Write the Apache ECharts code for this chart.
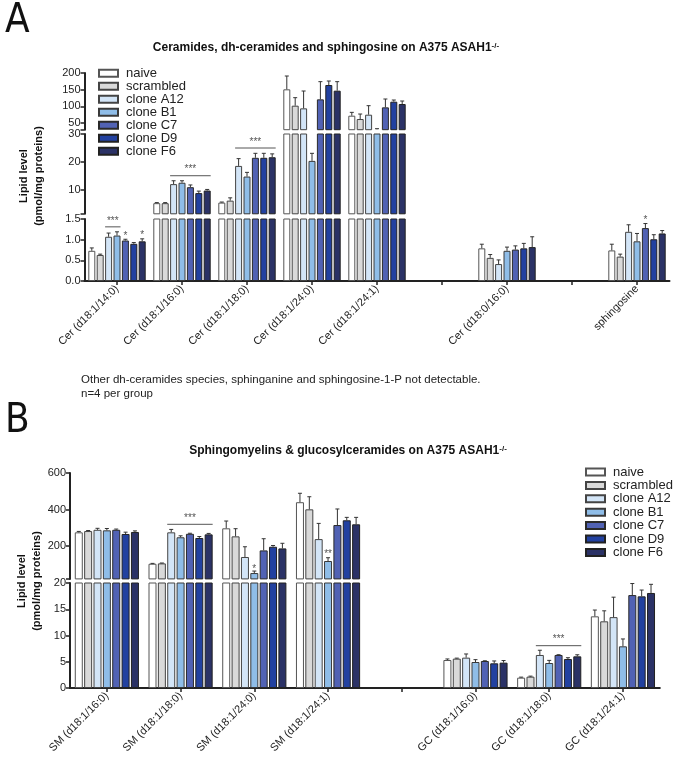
<!DOCTYPE html>
<html><head><meta charset="utf-8">
<script src="https://cdn.jsdelivr.net/npm/echarts@6/dist/echarts.min.js"></script>
<style>html,body{margin:0;padding:0;background:#fff}#c{width:675px;height:761px}</style>
</head><body><div id="c"></div>
<script>
// ---------- DATA ----------
const seriesNames = ['naive', 'scrambled', 'clone A12', 'clone B1', 'clone C7', 'clone D9', 'clone F6'];

// Panel A categories (empty slots are gaps in the original axis)
const catsA = ['Cer (d18:1/14:0)', 'Cer (d18:1/16:0)', 'Cer (d18:1/18:0)', 'Cer (d18:1/24:0)', 'Cer (d18:1/24:1)', ' ', 'Cer (d18:0/16:0)', '  ', 'sphingosine'];
const aNaive     = [0.73, 5.3, 5.5, 151, 72, null, 0.79, null, 0.74];
const aScrambled = [0.63, 5.3, 6.2, 102, 62, null, 0.56, null, 0.59];
const aA12       = [1.07, 12.1, 18.6, 94, 75, null, 0.41, null, 1.19];
const aB1        = [1.10, 12.6, 14.8, 20.4, 31, null, 0.73, null, 0.96];
const aC7        = [0.98, 11.0, 21.5, 121, 97, null, 0.76, null, 1.28];
const aD9        = [0.90, 8.9, 21.5, 164, 114, null, 0.79, null, 1.01];
const aF6        = [0.96, 9.8, 21.7, 147, 107, null, 0.82, null, 1.15];
const eaNaive     = [0.07, 0.2, 0.2, 40, 10, null, 0.10, null, 0.15];
const eaScrambled = [0.02, 0.2, 1.0, 24, 15, null, 0.08, null, 0.06];
const eaA12       = [0.09, 1.2, 2.6, 52, 27, null, 0.10, null, 0.17];
const eaB1        = [0.09, 0.7, 1.5, 2.7, 2, null, 0.09, null, 0.19];
const eaC7        = [0.03, 0.8, 1.6, 53, 25, null, 0.09, null, 0.11];
const eaD9        = [0.03, 0.7, 1.6, 12, 5, null, 0.12, null, 0.11];
const eaF6        = [0.06, 0.4, 1.2, 27, 9, null, 0.25, null, 0.07];

// Panel B categories
const catsB = ['SM (d18:1/16:0)', 'SM (d18:1/18:0)', 'SM (d18:1/24:0)', 'SM (d18:1/24:1)', ' ', 'GC (d18:1/16:0)', 'GC (d18:1/18:0)', 'GC (d18:1/24:1)'];
const bNaive     = [275, 103, 297, 440, null, 5.33, 1.97, 13.65];
const bScrambled = [282, 105, 253, 401, null, 5.59, 2.16, 12.7];
const bA12       = [289, 275, 140, 238, null, 5.78, 6.29, 13.5];
const bB1        = [286, 248, 52, 118, null, 4.95, 4.76, 7.94];
const bC7        = [289, 267, 176, 315, null, 5.14, 6.29, 17.7];
const bD9        = [266, 244, 196, 341, null, 4.7, 5.52, 17.46];
const bF6        = [277, 264, 187, 319, null, 4.83, 6.03, 18.1];
const ebNaive     = [5, 2, 40, 49, null, 0.2, 0.1, 1.2];
const ebScrambled = [3, 2, 42, 69, null, 0.1, 0.1, 2.0];
const ebA12       = [8, 16, 56, 86, null, 0.7, 0.9, 3.8];
const ebB1        = [10, 8, 11, 18, null, 0.45, 0.5, 1.4];
const ebC7        = [4, 3, 64, 88, null, 0.05, 0.05, 2.2];
const ebD9        = [10, 8, 7, 16, null, 0.45, 0.25, 1.2];
const ebF6        = [6, 5, 28, 38, null, 0.4, 0.3, 1.65];

// Y-axis tick labels for each broken-axis segment
const ticksATop = [50, 100, 150, 200];
const ticksAMid = [10, 20, 30];
const ticksBTop = [200, 400, 600];

// Significance marks: [segment, category, value, fromBar, toBar, text]
const annA = [
  [2, 0, 1.31, 2, 3, '***'],
  [2, 0, 0.93, 4, 4, '*'],
  [2, 0, 0.95, 6, 6, '*'],
  [1, 1, 15.1, 2, 6, '***'],
  [1, 2, 25.0, 2, 6, '***'],
  [2, 8, 1.32, 4, 4, '*']
];
const annB = [
  [0, 1, 319, 2, 6, '***'],
  [0, 2, 40, 3, 3, '*'],
  [0, 3, 120, 3, 3, '**'],
  [1, 6, 8.06, 2, 6, '***']
];

// ---------- CHART ----------
const FONT = '"Liberation Sans", Arial, sans-serif';
const colors = ['#ffffff', '#d9d9d9', '#d3e5f7', '#8fbde8', '#5162b4', '#2241a0', '#2b3266'];
const borders = ['#555', '#444', '#444', '#3a3a3a', '#2a2a2a', '#222', '#222'];
const valsA = [aNaive, aScrambled, aA12, aB1, aC7, aD9, aF6];
const errsA = [eaNaive, eaScrambled, eaA12, eaB1, eaC7, eaD9, eaF6];
const valsB = [bNaive, bScrambled, bA12, bB1, bC7, bD9, bF6];
const errsB = [ebNaive, ebScrambled, ebA12, ebB1, ebC7, ebD9, ebF6];

const panels = [
  { cats: catsA, vals: valsA, errs: errsA, ann: annA, left: 84.5, right: 5.5, bw: 7, gapPct: 0.2,
    segs: [
      { top: 73, height: 56.7, min: 30, max: 200, labels: ticksATop, ticks: [30].concat(ticksATop) },
      { top: 134, height: 79.8, min: 1.5, max: 30, labels: ticksAMid, ticks: [1.5].concat(ticksAMid) },
      { top: 219, height: 62, min: 0, max: 1.5, interval: 0.5, fmt: v => v.toFixed(1) }
    ] },
  { cats: catsB, vals: valsB, errs: errsB, ann: annB, left: 70, right: 15.2, bw: 8, gapPct: 0.17,
    segs: [
      { top: 473, height: 105.9, min: 20, max: 600, labels: ticksBTop, ticks: [20].concat(ticksBTop) },
      { top: 583, height: 105, min: 0, max: 20, interval: 5 }
    ] }
];

const grid = [], xAxis = [], yAxis = [], series = [];
function off(i, bw, gap) { return (i - 3) * (bw + gap); }

panels.forEach(P => {
  const gap = P.bw * P.gapPct;
  P.segs.forEach((S, si) => {
    const gi = grid.length;
    const isBottom = si === P.segs.length - 1;
    grid.push({ left: P.left, right: P.right, top: S.top, height: S.height, containLabel: false, outerBoundsMode: 'none' });
    xAxis.push({
      type: 'category', gridIndex: gi, data: P.cats, show: isBottom,
      axisLine: { show: true, lineStyle: { color: '#222', width: 2 } },
      axisTick: { show: true, alignWithLabel: true, interval: 0, length: 4, lineStyle: { color: '#222', width: 1.5 } },
      axisLabel: { interval: 0, rotate: 45, fontSize: 11, color: '#222', fontFamily: FONT, margin: 6 },
      splitLine: { show: false }
    });
    const y = {
      type: 'value', gridIndex: gi, min: S.min, max: S.max,
      axisLine: { show: true, lineStyle: { color: '#222', width: 2 } },
      axisTick: { show: true, length: 4, lineStyle: { color: '#222', width: 1.5 } },
      axisLabel: { fontSize: 11, color: '#222', fontFamily: FONT, margin: 4 },
      splitLine: { show: false }
    };
    if (S.interval != null) {
      y.interval = S.interval;
      if (S.fmt) y.axisLabel.formatter = S.fmt;
    } else {
      y.axisLabel.customValues = S.labels;
      y.axisTick.customValues = S.ticks;
    }
    yAxis.push(y);

    // bars
    P.vals.forEach((vals, k) => {
      series.push({
        type: 'bar', name: seriesNames[k], xAxisIndex: gi, yAxisIndex: gi,
        data: vals, barWidth: P.bw, barGap: (P.gapPct * 100) + '%', clip: true,
        itemStyle: { color: colors[k], borderColor: borders[k], borderWidth: 1 },
        emphasis: { disabled: true }, silent: true, animation: false
      });
    });

    // error bars (only the part lying inside this segment's value range)
    const edata = [];
    P.vals.forEach((vals, k) => {
      vals.forEach((v, c) => {
        if (v == null) return;
        const e = P.errs[k][c];
        if (v > S.max || v + e < S.min) return;
        edata.push([c, k, v, e]);
      });
    });
    series.push({
      type: 'custom', xAxisIndex: gi, yAxisIndex: gi, silent: true, animation: false, z: 5,
      encode: { x: 0, y: 2 },
      data: edata,
      renderItem: (params, api) => {
        const c = api.value(0), k = api.value(1), v = api.value(2), e = api.value(3);
        const lo = Math.max(v, S.min), hi = Math.min(v + e, S.max);
        const p1 = api.coord([c, lo]);
        const p2 = api.coord([c, hi]);
        const x = p1[0] + off(k, P.bw, gap);
        const ch = [{ type: 'line', shape: { x1: x, y1: p1[1], x2: x, y2: p2[1] }, style: { stroke: '#333', lineWidth: 1 } }];
        if (v + e <= S.max) ch.push({ type: 'line', shape: { x1: x - 2, y1: p2[1], x2: x + 2, y2: p2[1] }, style: { stroke: '#333', lineWidth: 1 } });
        return { type: 'group', children: ch };
      }
    });

    // significance annotations
    const alist = P.ann.filter(a => a[0] === si);
    if (alist.length) {
      series.push({
        type: 'custom', xAxisIndex: gi, yAxisIndex: gi, silent: true, animation: false, z: 6, clip: false,
        encode: { x: 0, y: 1 },
        data: alist.map(a => [a[1], a[2]]),
        renderItem: (params, api) => {
          const a = alist[params.dataIndex];
          const p = api.coord([a[1], a[2]]);
          const x1 = p[0] + off(a[3], P.bw, gap) - P.bw / 2;
          const x2 = p[0] + off(a[4], P.bw, gap) + P.bw / 2;
          const ch = [];
          if (a[3] !== a[4]) ch.push({ type: 'line', shape: { x1: x1, y1: p[1], x2: x2, y2: p[1] }, style: { stroke: '#555', lineWidth: 1 } });
          ch.push({ type: 'text', style: { text: a[5], x: (x1 + x2) / 2, y: p[1] - 1, align: 'center', verticalAlign: 'bottom', fontSize: 10, fill: '#555', fontFamily: FONT } });
          return { type: 'group', children: ch };
        }
      });
    }
  });
});

const legendBase = {
  data: seriesNames, orient: 'vertical', icon: 'rect', itemWidth: 19, itemHeight: 7, itemGap: 0,
  selectedMode: false, padding: 0,
  textStyle: { fontSize: 13, color: '#222', fontFamily: FONT, lineHeight: 13, padding: [0, 0, 0, 3] }
};

const chart = echarts.init(document.getElementById('c'), null, { renderer: 'canvas' });
chart.setOption({
  animation: false,
  backgroundColor: '#fff',
  grid, xAxis, yAxis, series,
  legend: [
    Object.assign({}, legendBase, { left: 98, top: 66.8 }),
    Object.assign({}, legendBase, { left: 585, top: 465.5, itemGap: 0.4 })
  ],
  graphic: [
    { type: 'text', x: 5, y: 2, style: { text: 'A', fontSize: 40, fontFamily: '"Liberation Sans Narrow", "DejaVu Sans Condensed", sans-serif', fill: '#111' } },
    { type: 'text', x: 5, y: 402, style: { text: 'B', fontSize: 40, fontFamily: '"Liberation Sans Narrow", "DejaVu Sans Condensed", sans-serif', fill: '#111' } },
    { type: 'text', x: 326, y: 48, style: {
        text: '{t|Ceramides, dh-ceramides and sphingosine on A375 ASAH1}{s|-/-}', align: 'center', verticalAlign: 'middle',
        rich: { t: { fontSize: 12, fontWeight: 'bold', fontFamily: FONT, fill: '#111' }, s: { fontSize: 8, fontWeight: 'bold', fontFamily: FONT, fill: '#111', verticalAlign: 'top' } } } },
    { type: 'text', x: 348, y: 451, style: {
        text: '{t|Sphingomyelins & glucosylceramides on A375 ASAH1}{s|-/-}', align: 'center', verticalAlign: 'middle',
        rich: { t: { fontSize: 12, fontWeight: 'bold', fontFamily: FONT, fill: '#111' }, s: { fontSize: 8, fontWeight: 'bold', fontFamily: FONT, fill: '#111', verticalAlign: 'top' } } } },
    { type: 'text', x: 31, y: 176, rotation: Math.PI / 2, style: { text: 'Lipid level\n(pmol/mg proteins)', fontSize: 11, fontWeight: 'bold', fontFamily: FONT, fill: '#111', align: 'center', verticalAlign: 'middle', lineHeight: 15 } },
    { type: 'text', x: 29, y: 581, rotation: Math.PI / 2, style: { text: 'Lipid level\n(pmol/mg proteins)', fontSize: 11, fontWeight: 'bold', fontFamily: FONT, fill: '#111', align: 'center', verticalAlign: 'middle', lineHeight: 15 } },
    { type: 'text', x: 81, y: 373, style: { text: 'Other dh-ceramides species, sphinganine and sphingosine-1-P not detectable.\nn=4 per group', fontSize: 11.5, lineHeight: 14, fontFamily: FONT, fill: '#222' } }
  ]
});
</script></body></html>
